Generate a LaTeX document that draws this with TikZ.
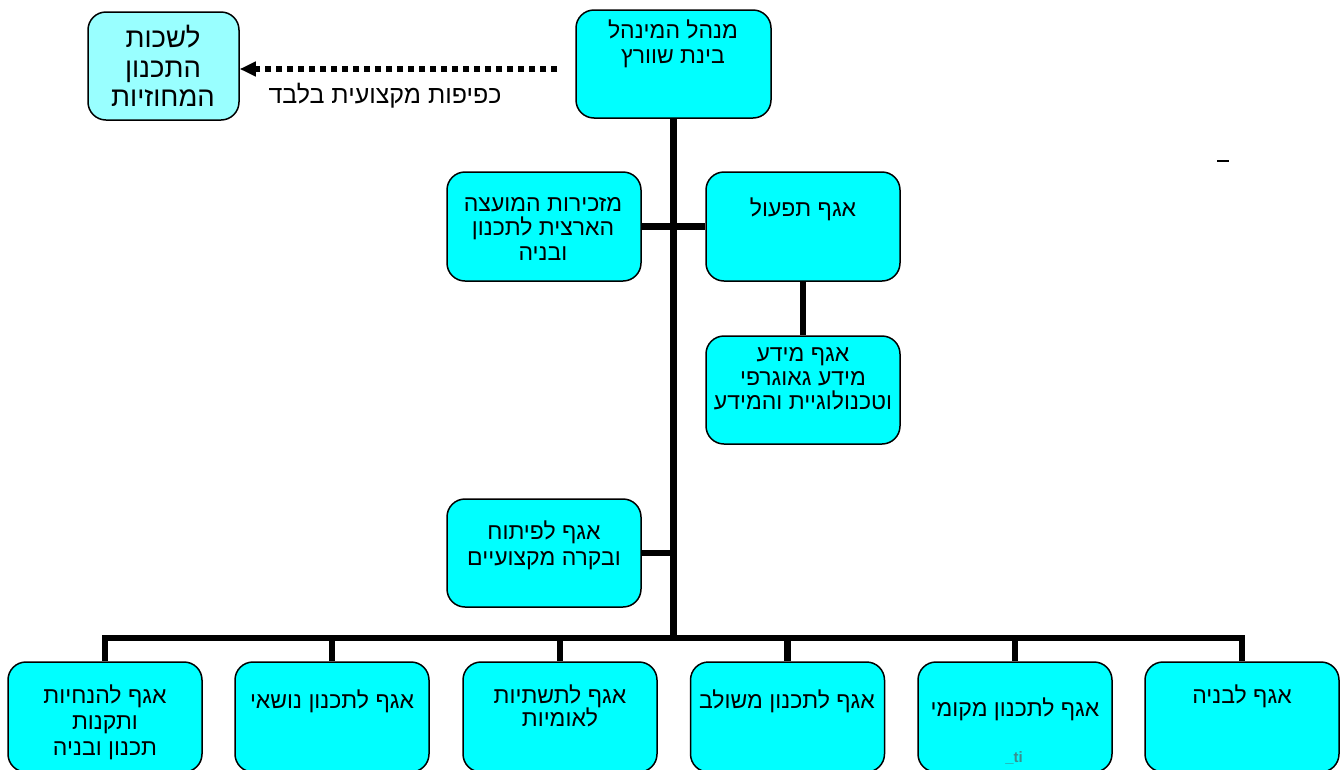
\documentclass[tikz,border=0pt]{standalone}
\usepackage{fontspec}
\newfontfamily\heb[Script=Hebrew]{Liberation Sans}
\newfontfamily\latn{Liberation Sans}
\TeXXeTstate=1
\usetikzlibrary{arrows.meta,calc}
\newcommand\RL[1]{\beginR #1\endR}
\newcommand\ls{\rule{0pt}{21pt}}
\definecolor{cyanbox}{HTML}{00FFFF}
\definecolor{lightcyan}{HTML}{99FFFF}
\definecolor{tigray}{HTML}{3C8C8C}
\begin{document}
\begin{tikzpicture}[x=1pt,y=-1pt,
  box/.style={draw=black, line width=1.5pt, rounded corners=18pt, fill=cyanbox, inner sep=0pt},
  txt/.style={font=\heb\fontsize{23}{25}\selectfont, align=center, inner sep=0pt, anchor=north},
  conn/.style={line width=6.5pt, line cap=butt, draw=black}]
\useasboundingbox (0,0) rectangle (1344,769);
% boxes
\node[box, minimum width=195, minimum height=108] (top) at (673.5,64) {};
\node[box, fill=lightcyan, minimum width=151, minimum height=108] (tl) at (163.5,66) {};
\node[box, minimum width=194, minimum height=109] (maz) at (544,226.5) {};
\node[box, minimum width=194, minimum height=109] (taf) at (803,226.5) {};
\node[box, minimum width=194, minimum height=108] (mei) at (803,390) {};
\node[box, minimum width=194, minimum height=108] (pit) at (544,553) {};
\node[box, minimum width=194, minimum height=110] (b1) at (105,717) {};
\node[box, minimum width=194, minimum height=110] (b2) at (332,717) {};
\node[box, minimum width=194, minimum height=110] (b3) at (560,717) {};
\node[box, minimum width=194, minimum height=110] (b4) at (787.5,717) {};
\node[box, minimum width=194, minimum height=110] (b5) at (1015,717) {};
\node[box, minimum width=194, minimum height=110] (b6) at (1242,717) {};
% connectors
\coordinate (bus) at (673.5,638);
\draw[conn] (top.south) -- (bus);
\draw[conn] (maz.east) -- (taf.west);
\draw[conn] (pit.east) -- (pit.east -| bus);
\draw[conn] (taf.south) -- (mei.north);
\foreach \b in {b1,b2,b3,b4,b5,b6}{\draw[conn, line join=miter] (bus) -| (\b.north);}
\coordinate (ds) at (557,69);
\draw[line width=5.5pt, dash pattern=on 6pt off 5pt, -{Triangle[length=16pt,width=14pt]}] (ds) -- (tl.east |- ds);
% texts
\node[txt] (ttop) at (673,17) {\ls\RL{מנהל המינהל}\\\RL{בינת שוורץ}};
\node[txt, font=\heb\fontsize{27.5}{29.5}\selectfont] (ttl) at (163,22.4) {\rule{0pt}{25pt}\RL{לשכות}\\\RL{התכנון}\\\RL{המחוזיות}};
\node[txt, font=\heb\fontsize{25}{25}\selectfont] (tlab) at (385,80.5) {\rule{0pt}{23pt}\RL{כפיפות מקצועית בלבד}};
\node[txt, font=\heb\fontsize{23}{24.5}\selectfont] (tmaz) at (543,190) {\ls\RL{מזכירות המועצה}\\\RL{הארצית לתכנון}\\\RL{ובניה}};
\node[txt] (ttaf) at (803,195) {\ls\RL{אגף תפעול}};
\node[txt, font=\heb\fontsize{23}{24}\selectfont] (tmei) at (803,340) {\ls\RL{אגף מידע}\\\RL{מידע גאוגרפי}\\\RL{וטכנולוגיית והמידע}};
\node[txt, font=\heb\fontsize{23}{26}\selectfont] (tpit) at (544,518) {\ls\RL{אגף לפיתוח}\\\RL{ובקרה מקצועיים}};
\node[txt, font=\heb\fontsize{23}{26}\selectfont] (tb1) at (105,682) {\ls\RL{אגף להנחיות}\\\RL{ותקנות}\\\RL{תכנון ובניה}};
\node[txt] (tb2) at (332,687) {\ls\RL{אגף לתכנון נושאי}};
\node[txt, font=\heb\fontsize{23}{23.5}\selectfont] (tb3) at (560,682) {\ls\RL{אגף לתשתיות}\\\RL{לאומיות}};
\node[txt] (tb4) at (787,687) {\ls\RL{אגף לתכנון משולב}};
\node[txt] (tb5) at (1015,695) {\ls\RL{אגף לתכנון מקומי}};
\node[txt] (tb6) at (1242,682) {\ls\RL{אגף לבניה}};
\node[inner sep=0pt, text=tigray, font=\latn\bfseries\fontsize{15}{15}\selectfont] (tti) at (1014,758) {\_ti};
\coordinate (m1) at (1217,161);
\coordinate (m2) at (1229,161);
\draw[line width=2pt] (m1) -- (m2);
\end{tikzpicture}
\end{document}
